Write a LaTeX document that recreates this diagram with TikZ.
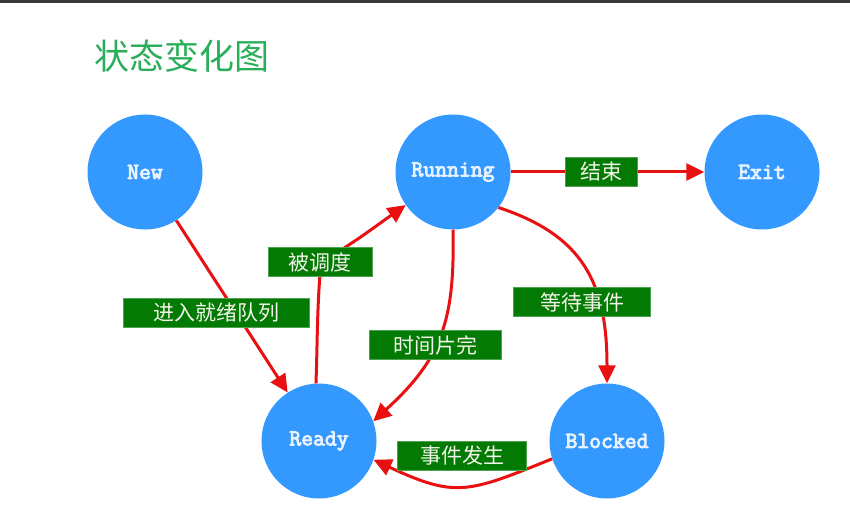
\documentclass[tikz,border=0pt]{standalone}
\usepackage{fontspec}
\newfontfamily\cjk{Noto Sans CJK SC}
\newfontfamily\statemono[FakeBold=4]{Latin Modern Mono}
\usetikzlibrary{arrows.meta}

\definecolor{stateblue}{HTML}{3399FF}
\definecolor{statetext}{HTML}{E8F2FF}
\definecolor{flowred}{HTML}{E81010}
\definecolor{tagfill}{HTML}{037A03}
\definecolor{tagedge}{HTML}{4FA34F}
\definecolor{tagtext}{HTML}{F2F4EA}
\definecolor{titlegreen}{HTML}{2AAE5A}
\definecolor{topbar}{HTML}{3A3A3A}

\newcommand{\statefont}{\statemono\fontsize{23}{23}\selectfont}

\tikzset{
  state/.style={circle, fill=stateblue, minimum size=115pt, inner sep=0pt,
    text=statetext, font=\statefont},
  flow/.style={draw=flowred, line width=3pt,
    -{Triangle[length=18pt,width=17pt]}},
  tag/.style={fill=tagfill, draw=tagedge, line width=0.6pt, minimum height=29pt,
    inner sep=0pt, text=tagtext, font=\cjk\fontsize{21}{21}\selectfont},
}

\begin{document}
\begin{tikzpicture}[x=1pt,y=1pt]
  \fill[white] (0,0) rectangle (850,-521);
  \useasboundingbox (0,0) rectangle (850,-521);
  \fill[topbar] (0,0) rectangle (850,-3);

  % heading
  \node[anchor=west, inner sep=0pt, text=titlegreen,
        font=\cjk\fontsize{35}{35}\selectfont] (title) at (94,-56) {状态变化图};

  % states
  \node[state] (new)     at (145,-172) {New};
  \node[state] (running) at (453,-172) {Running};
  \node[state] (exit)    at (762,-172) {Exit};
  \node[state] (ready)   at (319,-441) {Ready};
  \node[state] (blocked) at (607,-441) {Blocked};

  % transitions
  \draw[flow] (new) -- (ready);
  \draw[flow] (running) -- (exit);
  \draw[flow] (ready.93) to[out=88,in=-95] (321,-262) to[out=30,in=215] (running.215);
  \draw[flow] (running.270) .. controls +(2,-92) and +(68,62) .. (ready.20);
  \draw[flow] (running.-38) .. controls +(85,-28) and +(0,100) .. (blocked.90);
  \draw[flow] (blocked.198) to[out=202,in=-25,looseness=1.3] (ready.-19);

  % transition labels
  \node[tag, minimum width=186pt] (enqueue)  at (216,-313) {进入就绪队列};
  \node[tag, minimum width=104pt] (dispatch) at (320,-262) {被调度};
  \node[tag, minimum width=72pt]  (finish)   at (601,-172) {结束};
  \node[tag, minimum width=137pt] (wait)     at (582,-302) {等待事件};
  \node[tag, minimum width=132pt] (timeout)  at (435,-345) {时间片完};
  \node[tag, minimum width=129pt] (event)    at (462,-456) {事件发生};
\end{tikzpicture}
\end{document}
